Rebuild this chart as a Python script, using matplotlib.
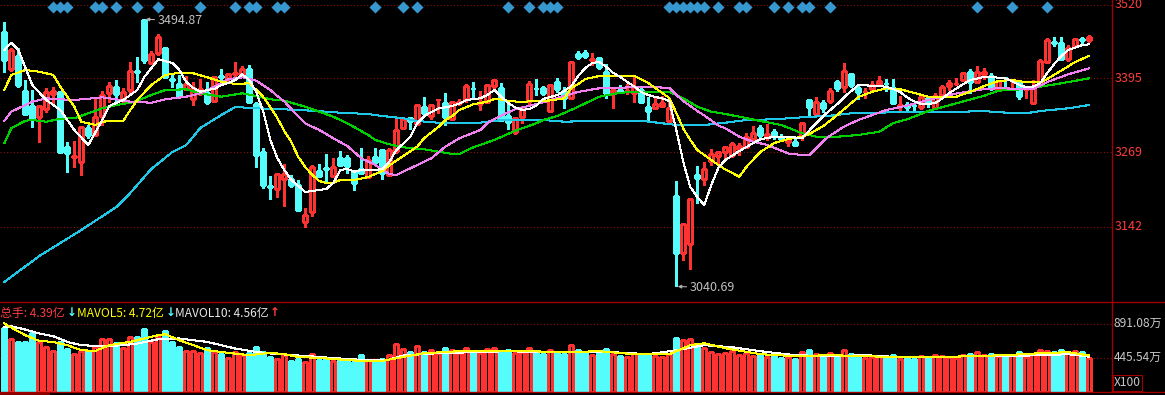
import matplotlib
matplotlib.use('Agg')
import matplotlib.pyplot as plt
import matplotlib.transforms as mtransforms
from matplotlib.patches import Rectangle
from matplotlib.lines import Line2D

# ---------------------------------------------------------------------------
# Data
# ---------------------------------------------------------------------------
opens = [3473.8, 3410.4, 3432.5, 3373.0, 3347.5, 3328.3, 3342.4, 3367.9, 3371.8, 3278.3,
         3260.3, 3252.8, 3310.1, 3298.2, 3330.5, 3370.1, 3379.8, 3357.7, 3374.7, 3406.2,
         3493.7, 3420.1, 3437.1, 3446.1, 3393.4, 3384.9, 3376.4, 3359.4, 3373.0, 3369.6,
         3356.5, 3399.3, 3394.3, 3401.9, 3398.5, 3409.9, 3350.9, 3269.8, 3212.0, 3205.9,
         3222.9, 3222.9, 3213.2, 3150.8, 3167.8, 3237.0, 3241.3, 3229.0, 3259.6, 3259.6,
         3235.8, 3240.4, 3226.3, 3260.3, 3272.7, 3230.2, 3271.5, 3310.6, 3326.6, 3316.4,
         3345.3, 3331.0, 3357.7, 3352.6, 3324.9, 3352.1, 3359.4, 3376.4, 3349.2, 3354.8,
         3382.0, 3377.6, 3330.5, 3303.8, 3328.3, 3356.5, 3376.4, 3377.6, 3339.5, 3387.8,
         3373.5, 3360.6, 3435.4, 3438.1, 3425.7, 3428.6, 3405.8, 3369.1, 3374.7, 3372.2,
         3369.1, 3374.7, 3345.3, 3344.6, 3347.5, 3322.5, 3194.5, 3097.1, 3112.4, 3230.2,
         3222.9, 3254.5, 3263.0, 3269.8, 3264.2, 3274.4, 3277.3, 3291.4, 3309.6, 3297.0,
         3302.8, 3294.3, 3285.8, 3286.3, 3297.0, 3357.7, 3333.9, 3353.1, 3356.5, 3388.8,
         3379.3, 3401.9, 3378.6, 3370.8, 3376.4, 3384.4, 3386.1, 3377.6, 3347.5, 3349.2,
         3348.4, 3346.3, 3360.6, 3343.6, 3366.2, 3382.0, 3384.9, 3391.7, 3404.8, 3388.8,
         3401.4, 3399.0, 3374.7, 3395.1, 3391.7, 3387.8, 3373.5, 3353.1, 3383.2, 3422.8,
         3456.8, 3454.1, 3427.4, 3450.0, 3461.4, 3459.7]

closes = [3425.7, 3442.7, 3383.2, 3333.9, 3327.6, 3348.0, 3371.3, 3373.0, 3269.8, 3267.1,
          3263.0, 3311.8, 3298.2, 3328.8, 3366.2, 3381.5, 3367.9, 3371.3, 3407.0, 3404.5,
          3425.7, 3435.9, 3464.3, 3397.3, 3390.9, 3364.5, 3384.9, 3378.1, 3376.4, 3354.3,
          3396.3, 3397.3, 3401.9, 3403.6, 3409.9, 3354.8, 3264.2, 3213.2, 3209.3, 3231.9,
          3231.4, 3213.2, 3170.7, 3162.2, 3243.3, 3229.0, 3239.6, 3243.8, 3247.2, 3246.0,
          3216.1, 3233.1, 3255.7, 3252.8, 3233.1, 3272.7, 3306.7, 3324.9, 3322.0, 3348.7,
          3336.1, 3348.7, 3358.9, 3328.3, 3353.8, 3354.3, 3381.5, 3375.2, 3350.4, 3383.2,
          3391.7, 3323.7, 3320.8, 3326.6, 3343.6, 3384.9, 3375.2, 3370.1, 3383.2, 3375.9,
          3360.6, 3421.8, 3430.3, 3433.0, 3427.4, 3413.3, 3369.1, 3374.7, 3373.0, 3373.8,
          3380.3, 3354.8, 3339.5, 3350.9, 3353.1, 3344.6, 3098.1, 3146.9, 3188.9, 3225.6,
          3239.9, 3265.4, 3268.8, 3277.3, 3282.4, 3279.5, 3294.3, 3301.1, 3298.2, 3299.4,
          3297.0, 3291.4, 3290.9, 3281.2, 3318.1, 3345.3, 3353.8, 3344.6, 3373.0, 3378.6,
          3407.0, 3383.2, 3371.8, 3371.8, 3383.2, 3390.0, 3384.9, 3352.1, 3349.2, 3345.3,
          3347.5, 3363.3, 3352.1, 3365.0, 3379.3, 3386.1, 3386.1, 3403.1, 3388.8, 3404.8,
          3404.8, 3378.6, 3390.0, 3393.9, 3392.9, 3365.0, 3374.7, 3377.6, 3424.0, 3459.7,
          3455.1, 3427.4, 3446.6, 3461.4, 3459.7, 3465.3]

highs = [3490.0, 3446.1, 3446.1, 3391.7, 3374.7, 3349.2, 3378.1, 3380.3, 3372.5, 3286.8,
         3288.0, 3313.0, 3315.2, 3361.1, 3373.0, 3388.8, 3391.7, 3378.1, 3422.3, 3431.3,
         3494.87, 3441.0, 3469.9, 3447.0, 3401.9, 3400.2, 3398.5, 3388.3, 3393.4, 3388.8,
         3398.5, 3410.4, 3404.1, 3422.3, 3415.5, 3417.2, 3354.8, 3276.1, 3228.5, 3234.1,
         3248.9, 3230.2, 3221.7, 3174.1, 3247.2, 3248.9, 3265.9, 3259.6, 3271.0, 3264.2,
         3238.7, 3276.6, 3262.5, 3276.6, 3273.5, 3275.6, 3326.6, 3328.8, 3328.3, 3349.5,
         3362.3, 3350.4, 3359.5, 3369.1, 3354.8, 3358.9, 3384.4, 3387.8, 3373.0, 3384.4,
         3392.5, 3387.1, 3353.1, 3328.3, 3347.5, 3390.5, 3392.9, 3381.5, 3384.4, 3395.6,
         3380.3, 3424.0, 3441.0, 3442.7, 3437.1, 3431.3, 3418.9, 3375.9, 3383.2, 3384.4,
         3397.3, 3380.3, 3363.3, 3360.6, 3364.5, 3358.9, 3220.0, 3147.5, 3189.5, 3245.5,
         3252.8, 3273.9, 3271.0, 3278.3, 3286.8, 3284.1, 3301.1, 3313.5, 3315.2, 3316.9,
         3307.9, 3299.4, 3297.0, 3294.3, 3318.5, 3359.4, 3362.3, 3357.7, 3377.6, 3391.7,
         3421.1, 3403.1, 3383.2, 3377.6, 3390.5, 3398.5, 3392.9, 3392.9, 3364.5, 3353.8,
         3352.1, 3367.4, 3363.3, 3369.1, 3383.2, 3391.7, 3394.6, 3405.8, 3410.4, 3416.0,
         3411.6, 3404.1, 3391.7, 3397.3, 3393.4, 3390.0, 3375.0, 3391.7, 3426.9, 3462.6,
         3465.3, 3465.3, 3451.2, 3462.3, 3465.3, 3468.2]

lows = [3405.8, 3407.0, 3380.3, 3333.9, 3312.3, 3286.8, 3337.3, 3353.1, 3269.8, 3235.8,
        3243.8, 3230.2, 3293.1, 3297.0, 3315.2, 3354.8, 3356.5, 3354.8, 3369.6, 3388.8,
        3421.1, 3419.0, 3434.2, 3396.0, 3380.3, 3363.3, 3374.7, 3349.2, 3366.2, 3350.9,
        3355.1, 3383.2, 3386.1, 3391.7, 3396.3, 3354.0, 3244.3, 3208.1, 3189.4, 3193.3,
        3178.0, 3210.3, 3170.0, 3142.3, 3160.5, 3226.3, 3218.8, 3227.3, 3245.5, 3233.1,
        3204.7, 3231.9, 3226.0, 3252.0, 3222.9, 3229.5, 3267.1, 3309.6, 3307.9, 3315.2,
        3335.1, 3325.4, 3335.1, 3315.2, 3324.5, 3349.2, 3354.8, 3358.9, 3340.7, 3354.5,
        3374.7, 3323.5, 3307.9, 3299.9, 3318.1, 3350.9, 3366.2, 3366.2, 3338.2, 3371.8,
        3344.6, 3358.9, 3426.9, 3428.6, 3417.2, 3409.9, 3360.6, 3343.6, 3369.1, 3367.9,
        3354.8, 3352.1, 3322.0, 3343.6, 3346.3, 3320.8, 3040.69, 3085.7, 3069.9, 3182.1,
        3213.2, 3247.2, 3247.2, 3255.7, 3261.3, 3264.2, 3275.6, 3289.7, 3295.3, 3289.7,
        3290.9, 3288.0, 3280.0, 3279.5, 3289.7, 3329.3, 3333.5, 3337.8, 3352.1, 3373.5,
        3371.8, 3380.3, 3358.9, 3360.6, 3374.7, 3383.2, 3373.5, 3352.0, 3339.5, 3336.8,
        3340.7, 3342.4, 3346.3, 3343.0, 3365.0, 3374.7, 3383.2, 3390.0, 3369.1, 3388.0,
        3393.4, 3374.7, 3373.0, 3378.6, 3374.7, 3359.4, 3361.6, 3352.1, 3382.0, 3421.8,
        3450.0, 3425.7, 3424.5, 3449.5, 3454.1, 3456.8]

# 总手, in 亿
volumes = [8.33, 6.85, 6.46, 6.46, 7.64, 6.46, 5.80, 5.37, 6.46, 5.58,
           4.89, 5.37, 5.28, 5.84, 6.85, 6.85, 6.33, 5.67, 7.12, 7.12,
           8.16, 6.50, 7.12, 7.94, 6.46, 5.80, 5.28, 5.28, 5.02, 5.67,
           5.15, 4.89, 4.36, 5.15, 4.72, 5.02, 5.80, 5.15, 4.49, 4.23,
           4.76, 3.97, 4.27, 3.84, 4.85, 4.19, 4.40, 3.97, 4.27, 4.01,
           3.84, 4.76, 4.10, 4.10, 4.23, 4.76, 6.20, 5.54, 5.15, 5.94,
           5.15, 5.41, 5.02, 5.67, 5.41, 5.02, 5.67, 5.28, 5.02, 5.54,
           5.67, 5.15, 5.41, 5.02, 5.15, 5.67, 5.15, 4.89, 5.41, 5.15,
           4.89, 6.07, 5.41, 5.02, 4.76, 5.15, 5.54, 4.89, 4.63, 4.49,
           5.02, 4.89, 4.76, 4.63, 4.49, 4.89, 6.98, 6.72, 6.85, 5.94,
           5.67, 5.15, 4.89, 5.02, 5.28, 4.76, 5.02, 4.63, 4.76, 4.49,
           4.63, 4.36, 4.49, 4.23, 5.15, 5.41, 4.89, 4.63, 5.02, 4.76,
           5.41, 4.89, 4.63, 4.36, 4.49, 4.63, 4.36, 4.76, 4.23, 4.36,
           4.23, 4.63, 4.36, 4.76, 4.63, 4.49, 4.36, 4.76, 4.89, 5.15,
           4.76, 4.89, 4.63, 4.49, 4.76, 5.15, 4.49, 4.89, 5.41, 5.28,
           5.15, 5.41, 5.02, 5.28, 5.15, 4.39]

# moving averages (sampled at candle indices)
ma5_idx = [0, 1, 2, 4, 6, 8, 10, 12, 14, 15, 17, 19, 20, 22, 24, 25, 26, 27, 28, 29,
           30, 31, 32, 33, 34, 35, 36, 37, 38, 39, 40, 41, 42, 43, 44, 45, 46, 47, 48, 49,
           50, 51, 53, 54, 55, 56, 57, 58, 59, 60, 61, 62, 64, 65, 66, 68, 69, 70, 71, 72,
           73, 74, 75, 76, 77, 79, 80, 81, 82, 83, 84, 85, 86, 87, 88, 89, 90, 91, 92, 93,
           94, 95, 96, 97, 98, 99, 100, 101, 102, 103, 104, 105, 106, 107, 108, 109, 110, 112, 113, 114,
           115, 116, 117, 118, 119, 120, 121, 122, 124, 126, 127, 128, 129, 130, 131, 132, 133, 134, 135, 136,
           137, 138, 139, 140, 141, 142, 143, 144, 145, 146, 147, 148, 149, 150, 151, 152, 153, 154, 155]
ma5_val = [3442.7, 3455.1, 3442.7, 3383.2, 3357.7, 3340.7, 3306.7, 3281.2, 3323.7, 3347.5,
           3357.7, 3374.7, 3396.8, 3426.9, 3420.6, 3408.7, 3388.3, 3378.1, 3371.8, 3374.7,
           3376.4, 3383.2, 3386.6, 3391.7, 3401.4, 3391.7, 3371.3, 3337.3, 3289.7, 3259.1,
           3238.7, 3221.7, 3211.5, 3201.3, 3203.0, 3204.7, 3206.4, 3216.6, 3238.7, 3240.4,
           3235.8, 3238.7, 3238.7, 3240.4, 3252.3, 3272.7, 3283.7, 3295.3, 3318.1, 3330.5,
           3337.3, 3343.2, 3347.5, 3351.8, 3357.7, 3360.6, 3366.2, 3374.7, 3362.8, 3352.6,
           3345.0, 3340.7, 3342.4, 3348.4, 3359.4, 3366.2, 3373.0, 3381.5, 3398.5, 3412.1,
           3420.6, 3422.3, 3413.8, 3403.6, 3396.8, 3388.3, 3380.7, 3371.3, 3366.2, 3362.8,
           3360.6, 3356.0, 3306.7, 3252.3, 3209.8, 3192.8, 3179.2, 3213.2, 3242.1, 3255.7,
           3263.4, 3271.0, 3277.8, 3284.6, 3290.9, 3293.1, 3295.3, 3295.3, 3293.9, 3293.1,
           3305.9, 3318.6, 3330.5, 3340.7, 3350.9, 3362.8, 3373.0, 3383.2, 3382.0, 3380.3,
           3376.4, 3371.3, 3361.9, 3355.2, 3350.9, 3350.9, 3352.6, 3360.2, 3369.6, 3377.2,
           3384.9, 3391.7, 3394.2, 3397.3, 3396.8, 3395.6, 3394.6, 3389.2, 3383.2, 3379.3,
           3380.7, 3386.6, 3403.6, 3418.9, 3432.5, 3442.7, 3447.0, 3451.2, 3452.4]

ma10_idx = [0, 1, 3, 5, 7, 8, 10, 11, 13, 14, 16, 17, 18, 19, 21, 23, 25, 27, 29, 31,
            33, 35, 36, 37, 38, 39, 40, 41, 42, 43, 44, 45, 46, 47, 48, 50, 52, 54, 55, 57,
            59, 60, 62, 63, 64, 65, 67, 69, 70, 71, 72, 74, 76, 78, 80, 81, 82, 83, 85, 90,
            92, 94, 95, 96, 97, 98, 99, 100, 101, 102, 103, 104, 105, 106, 108, 110, 112, 114, 115, 117,
            119, 121, 122, 124, 126, 128, 130, 132, 136, 138, 140, 142, 144, 146, 148, 149, 151, 153, 155]
ma10_val = [3374.7, 3400.2, 3408.7, 3405.8, 3400.2, 3380.3, 3346.3, 3320.8, 3315.2, 3320.8,
            3322.5, 3322.5, 3340.7, 3357.7, 3383.2, 3400.2, 3404.1, 3403.1, 3396.3, 3388.8,
            3384.9, 3386.1, 3374.7, 3362.8, 3345.8, 3327.1, 3305.0, 3286.3, 3260.8, 3243.8,
            3230.2, 3220.0, 3216.6, 3216.6, 3221.7, 3221.7, 3226.8, 3237.0, 3246.4, 3262.5,
            3278.7, 3293.1, 3311.8, 3323.7, 3330.5, 3340.7, 3350.4, 3354.8, 3359.4, 3358.5,
            3356.0, 3354.3, 3356.5, 3356.9, 3360.6, 3378.1, 3384.9, 3393.4, 3398.5, 3398.5,
            3386.6, 3369.6, 3361.1, 3335.6, 3309.1, 3289.7, 3272.7, 3264.2, 3255.7, 3247.2,
            3239.6, 3233.6, 3227.3, 3243.8, 3269.3, 3284.6, 3291.4, 3295.3, 3299.9, 3313.5,
            3332.2, 3352.6, 3362.8, 3371.8, 3377.6, 3375.9, 3369.6, 3363.3, 3363.3, 3371.8,
            3381.5, 3390.0, 3391.7, 3387.8, 3387.8, 3393.4, 3407.9, 3422.3, 3433.0]

ma20_idx = [0, 1, 3, 4, 6, 8, 10, 12, 14, 16, 18, 21, 23, 26, 28, 30, 32, 34, 36, 38,
            39, 40, 41, 43, 45, 47, 49, 51, 53, 55, 56, 58, 61, 63, 65, 68, 69, 71, 73, 76,
            77, 79, 82, 85, 88, 92, 95, 96, 97, 98, 99, 100, 101, 102, 103, 105, 107, 109, 112, 114,
            115, 116, 117, 118, 120, 122, 124, 126, 129, 132, 136, 140, 142, 147, 149, 152, 155]
ma20_val = [3322.0, 3337.8, 3349.2, 3354.8, 3360.6, 3358.9, 3357.7, 3359.9, 3362.3, 3358.9,
            3354.8, 3353.1, 3358.9, 3363.3, 3369.1, 3380.3, 3392.9, 3396.3, 3390.5, 3374.7,
            3364.5, 3355.2, 3342.4, 3317.8, 3306.7, 3292.6, 3279.5, 3258.6, 3247.2, 3231.9,
            3230.2, 3241.6, 3258.6, 3278.3, 3292.6, 3306.7, 3318.6, 3331.4, 3341.9, 3350.9,
            3353.8, 3361.1, 3371.6, 3377.6, 3378.6, 3380.3, 3378.1, 3366.2, 3356.0, 3347.5,
            3339.0, 3331.4, 3322.9, 3314.4, 3309.6, 3295.3, 3286.8, 3281.2, 3266.8, 3264.2,
            3264.2, 3276.1, 3288.0, 3297.4, 3312.7, 3323.7, 3332.2, 3340.7, 3348.4, 3357.7,
            3368.8, 3376.4, 3377.6, 3376.4, 3388.3, 3401.4, 3411.6]

ma30_idx = [0, 1, 3, 4, 6, 8, 10, 12, 14, 16, 18, 19, 21, 23, 26, 28, 31, 34, 36, 38,
            40, 43, 45, 47, 49, 52, 53, 55, 57, 60, 64, 65, 67, 70, 73, 76, 77, 79, 82, 85,
            88, 91, 95, 97, 99, 101, 103, 105, 108, 111, 114, 116, 119, 122, 125, 127, 129, 132, 136, 140,
            142, 146, 148, 151, 155]
ma30_val = [3284.1, 3309.6, 3322.5, 3323.7, 3320.8, 3325.9, 3326.6, 3335.1, 3343.6, 3349.2,
            3353.1, 3356.5, 3366.2, 3374.7, 3375.9, 3369.1, 3363.3, 3369.1, 3364.5, 3358.9,
            3356.5, 3346.3, 3337.8, 3329.3, 3318.1, 3298.2, 3289.7, 3282.4, 3277.3, 3273.9,
            3265.9, 3265.9, 3277.3, 3289.7, 3305.5, 3318.1, 3323.7, 3330.5, 3346.3, 3363.3,
            3370.1, 3371.8, 3371.8, 3360.6, 3346.3, 3337.8, 3333.9, 3329.3, 3322.0, 3315.2,
            3301.1, 3295.3, 3295.3, 3298.2, 3303.8, 3318.6, 3324.9, 3339.0, 3352.1, 3365.0,
            3373.5, 3376.4, 3380.3, 3386.1, 3394.6]

ma60_idx = [0, 5, 11, 16, 18, 21, 24, 26, 28, 31, 33, 36, 39, 44, 48, 52, 54, 57, 59, 63,
            65, 68, 70, 72, 77, 80, 85, 91, 96, 100, 103, 106, 110, 114, 118, 121, 125, 129, 132, 137,
            140, 142, 146, 148, 152, 155]
ma60_val = [3048.3, 3092.5, 3136.7, 3175.8, 3199.6, 3240.4, 3269.3, 3281.2, 3310.1, 3332.2,
            3345.8, 3343.6, 3342.4, 3339.5, 3336.1, 3333.9, 3330.5, 3326.6, 3322.0, 3318.1,
            3318.1, 3319.1, 3322.5, 3323.7, 3323.7, 3320.8, 3322.5, 3322.5, 3315.2, 3315.2,
            3319.1, 3323.7, 3324.9, 3328.3, 3331.0, 3335.1, 3336.1, 3337.8, 3337.8, 3337.8,
            3339.0, 3336.8, 3335.1, 3339.0, 3343.6, 3349.2]

mavol5_idx = [0, 1, 3, 5, 7, 9, 11, 13, 15, 17, 18, 20, 22, 23, 25, 27, 29, 32, 35, 38,
              40, 42, 45, 48, 51, 54, 57, 60, 65, 70, 75, 80, 85, 90, 95, 98, 100, 103, 108, 113,
              118, 123, 128, 133, 138, 143, 148, 152, 155]
mavol5_val = [8.91, 8.39, 7.38, 6.63, 6.50, 6.07, 5.41, 5.32, 6.07, 6.37, 6.50, 6.95, 7.38, 7.51,
              6.72, 6.07, 5.41, 5.06, 4.76, 5.06, 4.89, 4.53, 4.40, 4.19, 4.01, 4.01, 4.53, 5.02,
              5.28, 5.28, 5.28, 5.15, 5.28, 4.89, 4.89, 6.07, 6.33, 5.67, 4.89, 4.63, 4.76, 4.63,
              4.49, 4.49, 4.63, 4.76, 5.02, 5.15, 4.72]

mavol10_idx = [0, 1, 3, 5, 7, 9, 11, 14, 17, 19, 22, 25, 27, 29, 33, 36, 38, 42, 45, 48,
               52, 55, 57, 62, 67, 72, 77, 82, 87, 92, 96, 100, 104, 108, 113, 118, 123, 128, 133, 138,
               143, 148, 152, 155]
mavol10_val = [8.47, 8.56, 8.12, 7.60, 7.25, 6.50, 6.07, 5.94, 6.07, 6.29, 6.85, 6.95, 6.72, 6.50,
               5.63, 5.19, 4.98, 4.72, 4.53, 4.32, 4.10, 4.19, 4.72, 5.02, 5.15, 5.28, 5.15, 5.15,
               5.15, 4.89, 5.41, 6.07, 5.80, 5.28, 4.76, 4.63, 4.76, 4.49, 4.49, 4.63, 4.63, 4.76,
               4.89, 4.56]

# diamonds along the top edge
signal_idx = [7, 8, 9, 13, 14, 16, 19, 22, 28, 33, 35, 36, 39, 40, 53, 57, 59, 72, 75, 77,
              78, 79, 95, 96, 97, 98, 99, 100, 102, 105, 106, 110, 112, 114, 115, 118, 139, 144, 149]

price_ticks = [3520, 3395, 3269, 3142]
price_tick_labels = ['3520', '3395', '3269', '3142']
vol_ticks = [8.9108, 4.4554]
vol_tick_labels = ['891.08万', '445.54万']

max_idx, max_label = 20, '3494.87'
min_idx, min_label = 96, '3040.69'

legend_parts = [('总手: 4.39亿', '#ff3c3c'), ('MAVOL5: 4.72亿', '#ffff00'),
                ('MAVOL10: 4.56亿', '#e8e8e8')]
legend_x = [0, 77, 175]
legend_arrows = [('↓', '#54fcfc'), ('↓', '#54fcfc'), ('↑', '#ff3c3c')]
arrow_x = [71.5, 170.5, 275]

# ---------------------------------------------------------------------------
# Style
# ---------------------------------------------------------------------------
RED = '#ff3232'
CYAN = '#54fcfc'
FRAME = '#a00000'
GRID = '#8c1010'

plt.rcParams['font.family'] = ['Noto Sans CJK SC', 'DejaVu Sans']

W, H = 1165, 395
PLOT_W = 1112
fig = plt.figure(figsize=(W / 100, H / 100), dpi=100, facecolor='black')
ax = fig.add_axes([0, 1 - 301 / H, PLOT_W / W, 301 / H])
axv = fig.add_axes([0, (H - 391.5) / H, PLOT_W / W, (391.5 - 302) / H])

for a in (ax, axv):
    a.set_facecolor('black')
    a.set_xticks([])
    a.set_yticks([])
    for s in a.spines.values():
        s.set_visible(False)
    a.set_xlim(-4.3 / 7, (PLOT_W - 4.3) / 7)

ax.set_ylim(3016.0, 3527.7)
axv.set_ylim(0, 11.73)

# grid lines
for p in price_ticks:
    ax.axhline(p, color=GRID, lw=0.8, ls=(0, (1, 2)), zorder=1)
for v in vol_ticks:
    axv.axhline(v, color=GRID, lw=0.8, ls=(0, (1, 2)), zorder=1)

# candles + volume bars
BW = 0.58
for i in range(len(opens)):
    o, h, l, c = opens[i], highs[i], lows[i], closes[i]
    up = c >= o
    col = RED if up else CYAN
    ax.vlines(i, l, h, colors=col, lw=1, antialiased=False, zorder=2)
    if abs(c - o) < 1.6:
        ax.hlines((o + c) / 2, i - BW / 2 - 0.05, i + BW / 2 + 0.05, colors=col, lw=1.3,
                  antialiased=False, zorder=3)
    else:
        ax.add_patch(Rectangle((i - BW / 2, min(o, c)), BW, abs(c - o),
                               facecolor='black' if up else col, edgecolor=col, lw=1,
                               antialiased=False, zorder=3))
    axv.add_patch(Rectangle((i - BW / 2, 0), BW, volumes[i],
                            facecolor='black' if up else col, edgecolor=col, lw=1,
                            antialiased=False, zorder=2))

# moving averages
for xs, ys, col in [(ma60_idx, ma60_val, '#20c8e8'), (ma30_idx, ma30_val, '#00d000'),
                    (ma20_idx, ma20_val, '#f080f0'), (ma10_idx, ma10_val, '#ffff00'),
                    (ma5_idx, ma5_val, '#ffffff')]:
    ax.plot(xs, ys, color=col, lw=0.75, antialiased=False, zorder=4)

axv.plot(mavol10_idx, mavol10_val, color='#ffffff', lw=0.75, antialiased=False, zorder=4)
axv.plot(mavol5_idx, mavol5_val, color='#ffff00', lw=0.75, antialiased=False, zorder=4)

# signal diamonds at the top
trans_top = mtransforms.blended_transform_factory(ax.transData, ax.transAxes)
ax.scatter(signal_idx, [1 - 7 / 301] * len(signal_idx), marker='D', s=38, color='#3797cf',
           transform=trans_top, zorder=5, linewidths=0)

# max / min annotations
for idx, lab, val in [(max_idx, max_label, highs[max_idx]), (min_idx, min_label, lows[min_idx])]:
    ax.annotate(lab, xy=(idx, val), xytext=(13, -1), textcoords='offset pixels',
                color='#c0c0c0', fontsize=9, ha='left', va='center',
                arrowprops=dict(arrowstyle='-|>', color='#b0b0b0', lw=0.8,
                                mutation_scale=5, shrinkA=0, shrinkB=1))

# right-hand axis labels
trans_r = mtransforms.blended_transform_factory(ax.transAxes, ax.transData)
for p, lab in zip(price_ticks, price_tick_labels):
    ax.text(1 + 3 / PLOT_W, p, lab, transform=trans_r, color='#ff3c3c', fontsize=9,
            ha='left', va='center', clip_on=False)
trans_rv = mtransforms.blended_transform_factory(axv.transAxes, axv.transData)
for v, lab in zip(vol_ticks, vol_tick_labels):
    axv.text(1 + 2 / PLOT_W, v, lab, transform=trans_rv, color='#c8c8c8', fontsize=8.6,
             ha='left', va='center', clip_on=False)

fig.text(1114 / W, 1 - 383 / H, 'X100', color='#c8c8c8', fontsize=8.6, ha='left', va='center',
         bbox=dict(boxstyle='square,pad=0.12', facecolor='black', edgecolor=FRAME, lw=0.8))

# volume legend line
for (txt, col), px in zip(legend_parts, legend_x):
    fig.text(px / W, 1 - 313 / H, txt, color=col, fontsize=8.6, ha='left', va='center')
for (txt, col), px in zip(legend_arrows, arrow_x):
    fig.text(px / W, 1 - 313 / H, txt, color=col, fontsize=8.6, ha='center', va='center',
             family='DejaVu Sans', fontweight='bold')

# frame lines
fig.add_artist(Line2D([0, 1], [1 - 301.5 / H] * 2, color=FRAME, lw=1, transform=fig.transFigure))
fig.add_artist(Line2D([0, 1], [1 - 392 / H] * 2, color=FRAME, lw=1, transform=fig.transFigure))
fig.add_artist(Line2D([PLOT_W / W] * 2, [1 - 392 / H, 1], color=FRAME, lw=1,
                      transform=fig.transFigure))
fig.add_artist(Rectangle((0, 0), 50 / W, 3 / H, facecolor='#8a0000', edgecolor='none',
                         transform=fig.transFigure))

fig.savefig('out.png', dpi=100, facecolor='black')
